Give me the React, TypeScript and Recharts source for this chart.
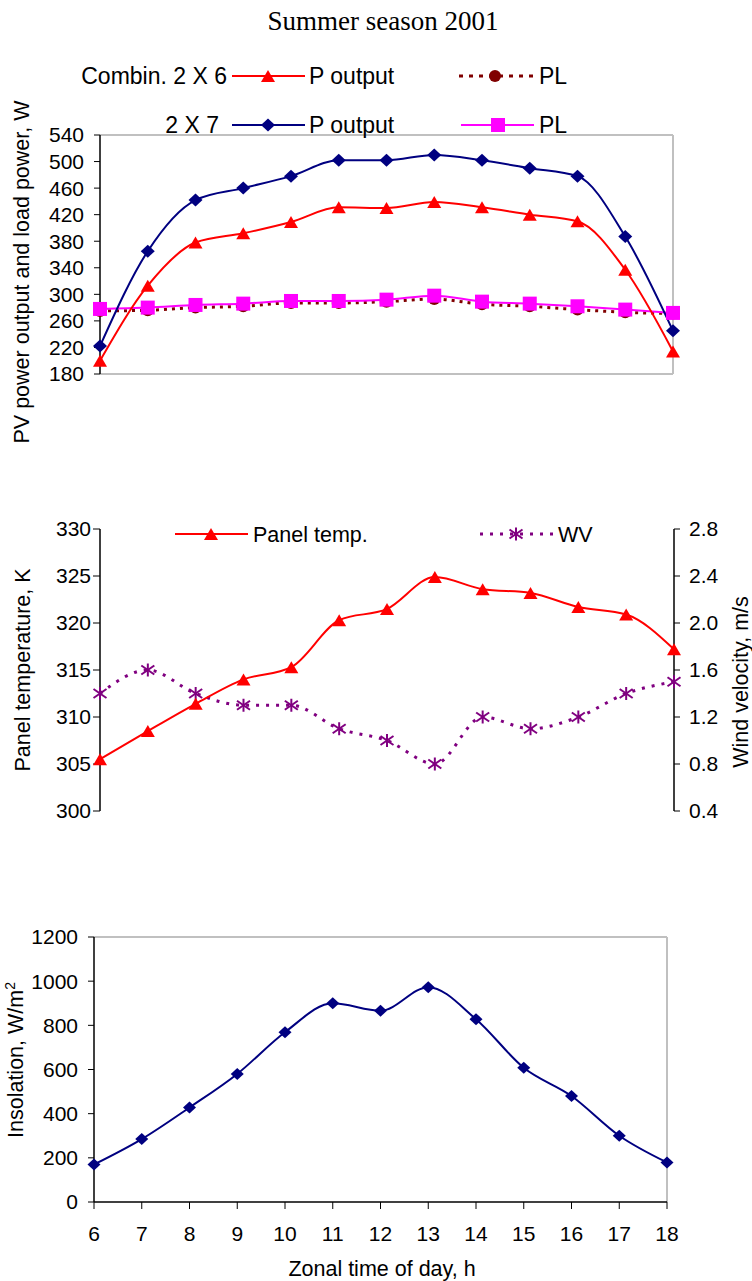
import React from "react";
import { LineChart, Line, XAxis, YAxis, ReferenceLine } from "recharts";

const hours = [6, 7, 8, 9, 10, 11, 12, 13, 14, 15, 16, 17, 18];

// top panel, W
const pOut2x6 = [200, 313, 378, 392, 409, 431, 430, 439, 431, 420, 410, 337, 214];
const pOut2x7 = [222, 365, 442, 460, 478, 502, 502, 510, 502, 490, 478, 387, 245];
const pl2x6 = [275, 276, 280, 282, 287, 287, 289, 293, 285, 282, 277, 273, 271];
const pl2x7 = [278, 280, 284, 286, 290, 290, 292, 298, 289, 286, 282, 277, 272];

// middle panel
const panelTemp = [305.5, 308.5, 311.4, 314, 315.3, 320.3, 321.5, 324.9, 323.6, 323.2, 321.7, 320.9, 317.2];
const windVel = [1.4, 1.6, 1.4, 1.3, 1.3, 1.1, 1.0, 0.8, 1.2, 1.1, 1.2, 1.4, 1.5];

// bottom panel, W/m2
const insolation = [170, 285, 428, 580, 769, 900, 866, 973, 828, 608, 480, 300, 179];

const powerTicks = [180, 220, 260, 300, 340, 380, 420, 460, 500, 540];
const tempTicks = [300, 305, 310, 315, 320, 325, 330];
const windTicks = [0.4, 0.8, 1.2, 1.6, 2.0, 2.4, 2.8];
const insolTicks = [0, 200, 400, 600, 800, 1000, 1200];

const powerData = hours.map((h, i) => ({ h, p6: pOut2x6[i], p7: pOut2x7[i], l6: pl2x6[i], l7: pl2x7[i] }));
const tempData = hours.map((h, i) => ({ h, temp: panelTemp[i], wv: windVel[i] }));
const insolData = hours.map((h, i) => ({ h, ins: insolation[i] }));

const FONT = "'Liberation Sans', Arial, sans-serif";
const RED = "#ff0000";
const NAVY = "#000080";
const MAGENTA = "#ff00ff";
const DARKRED = "#800000";
const PURPLE = "#800080";
const BORDER = "#c0c0c0";

const tickStyle = { fill: "#000", fontSize: 21, fontFamily: FONT };
const axisLine = { stroke: "#000", strokeWidth: 1.5 };

function Tri({ x, y, color, w = 14, h = 12 }: any) {
  return <path d={`M${x},${y - h / 2} L${x + w / 2},${y + h / 2} L${x - w / 2},${y + h / 2} Z`} fill={color} />;
}
function Diamond({ x, y, color, w = 14, h = 13 }: any) {
  return <path d={`M${x},${y - h / 2} L${x + w / 2},${y} L${x},${y + h / 2} L${x - w / 2},${y} Z`} fill={color} />;
}
function Square({ x, y, color, s = 14 }: any) {
  return <rect x={x - s / 2} y={y - s / 2} width={s} height={s} fill={color} />;
}
function Dot({ x, y, color, r = 6 }: any) {
  return <circle cx={x} cy={y} r={r} fill={color} />;
}
function Star({ x, y, color, s = 6.5 }: any) {
  return (
    <g stroke={color} strokeWidth={2}>
      <line x1={x} y1={y - s} x2={x} y2={y + s} />
      <line x1={x - s} y1={y - s * 0.7} x2={x + s} y2={y + s * 0.7} />
      <line x1={x - s} y1={y + s * 0.7} x2={x + s} y2={y - s * 0.7} />
    </g>
  );
}

const marker = (Shape: any, color: string, extra: any = {}) => (props: any) => {
  const { cx, cy, index } = props;
  if (cx == null || cy == null) return <g key={`m-${index}`} />;
  return (
    <g key={`m-${index}`}>
      <Shape x={cx} y={cy} color={color} {...extra} />
    </g>
  );
};

function Legends() {
  const t23 = { fontSize: 23, fontFamily: FONT, fill: "#000" };
  const t21 = { fontSize: 21.5, fontFamily: FONT, fill: "#000" };
  return (
    <svg width={752} height={1281} style={{ position: "absolute", left: 0, top: 0, pointerEvents: "none" }}>
      {/* row 1 */}
      <text x={227} y={84} textAnchor="end" {...t23}>Combin. 2 X 6</text>
      <line x1={232} y1={76} x2={305} y2={76} stroke={RED} strokeWidth={2} />
      <Tri x={268} y={76} color={RED} />
      <text x={309} y={84} {...t23}>P output</text>
      <line x1={459} y1={76} x2={534} y2={76} stroke={DARKRED} strokeWidth={3} strokeDasharray="4 6" />
      <Dot x={495} y={76} color={DARKRED} />
      <text x={539} y={84} {...t23}>PL</text>
      {/* row 2 */}
      <text x={219} y={133} textAnchor="end" {...t23}>2 X 7</text>
      <line x1={232} y1={125} x2={305} y2={125} stroke={NAVY} strokeWidth={2} />
      <Diamond x={268} y={125} color={NAVY} />
      <text x={309} y={133} {...t23}>P output</text>
      <line x1={461} y1={125} x2={534} y2={125} stroke={MAGENTA} strokeWidth={2} />
      <Square x={498} y={125} color={MAGENTA} />
      <text x={539} y={133} {...t23}>PL</text>
      {/* middle */}
      <line x1={175} y1={534} x2={248} y2={534} stroke={RED} strokeWidth={2} />
      <Tri x={211} y={534} color={RED} />
      <text x={253} y={542} {...t21}>Panel temp.</text>
      <line x1={480} y1={534} x2={553} y2={534} stroke={PURPLE} strokeWidth={3} strokeDasharray="3 7" />
      <Star x={516} y={534} color={PURPLE} />
      <text x={558} y={542} {...t21}>WV</text>
    </svg>
  );
}

function VLabel({ x, y, children }: any) {
  return (
    <div
      style={{
        position: "absolute",
        left: x,
        top: y,
        transform: "translate(-50%, -50%) rotate(-90deg)",
        whiteSpace: "nowrap",
        fontFamily: FONT,
        fontSize: 21.5,
        lineHeight: 1,
        color: "#000",
      }}
    >
      {children}
    </div>
  );
}

export default function App() {
  return (
    <div style={{ position: "absolute", left: 0, top: 0, width: 752, height: 1281, background: "#fff", overflow: "hidden" }}>
      <div
        style={{
          position: "absolute",
          left: 0,
          top: 8,
          width: 766,
          textAlign: "center",
          fontFamily: "'Liberation Serif', 'Times New Roman', serif",
          fontSize: 27,
          lineHeight: 1,
        }}
      >
        Summer season 2001
      </div>

      <div style={{ position: "absolute", left: 0, top: 0 }}>
        <LineChart width={752} height={390} data={powerData} margin={{ top: 135, right: 79, bottom: 16, left: 40 }}>
          <XAxis type="number" dataKey="h" domain={[6, 18]} hide />
          <YAxis
            domain={[180, 540]}
            ticks={powerTicks}
            interval={0}
            width={60}
            tick={tickStyle}
            tickSize={6}
            tickMargin={10}
            axisLine={axisLine}
            tickLine={{ stroke: "#000" }}
          />
          <ReferenceLine y={540} stroke={BORDER} strokeWidth={2} />
          <ReferenceLine y={180} stroke={BORDER} strokeWidth={2} />
          <ReferenceLine x={18} stroke={BORDER} strokeWidth={2} />
          <Line type="monotone" dataKey="l6" stroke={DARKRED} strokeWidth={3} strokeDasharray="3 5" dot={marker(Dot, DARKRED)} activeDot={false} isAnimationActive={false} />
          <Line type="monotone" dataKey="l7" stroke={MAGENTA} strokeWidth={2} dot={marker(Square, MAGENTA)} activeDot={false} isAnimationActive={false} />
          <Line type="monotone" dataKey="p6" stroke={RED} strokeWidth={2} dot={marker(Tri, RED)} activeDot={false} isAnimationActive={false} />
          <Line type="monotone" dataKey="p7" stroke={NAVY} strokeWidth={2} dot={marker(Diamond, NAVY)} activeDot={false} isAnimationActive={false} />
        </LineChart>
      </div>

      <div style={{ position: "absolute", left: 0, top: 400 }}>
        <LineChart width={752} height={430} data={tempData} margin={{ top: 129, right: 18, bottom: 19, left: 40 }}>
          <XAxis type="number" dataKey="h" domain={[6, 18]} hide />
          <YAxis
            yAxisId="left"
            domain={[300, 330]}
            ticks={tempTicks}
            interval={0}
            width={60}
            tick={tickStyle}
            tickSize={7}
            tickMargin={2}
            axisLine={axisLine}
            tickLine={{ stroke: "#000" }}
          />
          <YAxis
            yAxisId="right"
            orientation="right"
            domain={[0.4, 2.8]}
            ticks={windTicks}
            interval={0}
            width={60}
            tick={tickStyle}
            tickSize={6}
            tickMargin={9}
            tickFormatter={(v: number) => v.toFixed(1)}
            axisLine={axisLine}
            tickLine={{ stroke: "#000" }}
          />
          <Line yAxisId="right" type="monotone" dataKey="wv" stroke={PURPLE} strokeWidth={3} strokeDasharray="3 7" dot={marker(Star, PURPLE)} activeDot={false} isAnimationActive={false} />
          <Line yAxisId="left" type="monotone" dataKey="temp" stroke={RED} strokeWidth={2} dot={marker(Tri, RED)} activeDot={false} isAnimationActive={false} />
        </LineChart>
      </div>

      <div style={{ position: "absolute", left: 0, top: 900 }}>
        <LineChart width={752} height={381} data={insolData} margin={{ top: 37, right: 85, bottom: 39, left: 34 }}>
          <XAxis
            type="number"
            dataKey="h"
            domain={[6, 18]}
            ticks={hours}
            interval={0}
            height={40}
            tick={tickStyle}
            tickSize={7}
            tickMargin={17}
            axisLine={axisLine}
            tickLine={{ stroke: "#000" }}
          />
          <YAxis
            domain={[0, 1200]}
            ticks={insolTicks}
            interval={0}
            width={60}
            tick={tickStyle}
            tickSize={6}
            tickMargin={10}
            axisLine={axisLine}
            tickLine={{ stroke: "#000" }}
          />
          <ReferenceLine y={1200} stroke={BORDER} strokeWidth={2} />
          <ReferenceLine x={18} stroke={BORDER} strokeWidth={2} />
          <Line type="monotone" dataKey="ins" stroke={NAVY} strokeWidth={2} dot={marker(Diamond, NAVY, { w: 13, h: 12 })} activeDot={false} isAnimationActive={false} />
        </LineChart>
      </div>

      <Legends />

      <VLabel x={23} y={272}>PV power output and load power, W</VLabel>
      <VLabel x={24} y={670}>Panel temperature, K</VLabel>
      <VLabel x={742} y={682}>Wind velocity, m/s</VLabel>
      <VLabel x={17} y={1060}>
        Insolation, W/m<sup style={{ fontSize: 14, verticalAlign: "super", lineHeight: 0 }}>2</sup>
      </VLabel>

      <div
        style={{
          position: "absolute",
          left: 382,
          top: 1270,
          transform: "translate(-50%, -50%)",
          whiteSpace: "nowrap",
          fontFamily: FONT,
          fontSize: 21.5,
          lineHeight: 1,
        }}
      >
        Zonal time of day, h
      </div>
    </div>
  );
}
